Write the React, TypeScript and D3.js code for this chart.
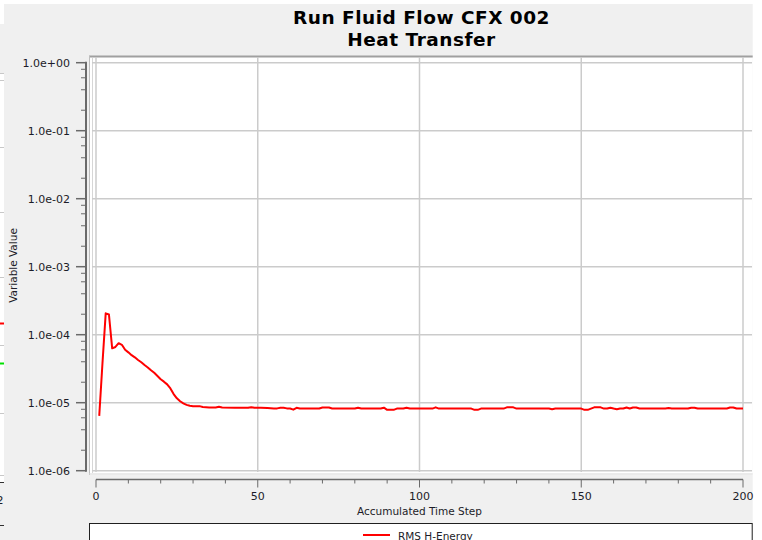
import React from "react";
import * as d3 from "d3";

const titleLines = ["Run Fluid Flow CFX 002", "Heat Transfer"];
const xTicks = [0, 50, 100, 150, 200];
const xMinorTicks = d3.range(0, 201, 10);
const yTickExps = [0, -1, -2, -3, -4, -5, -6];
const yTickLabels = ["1.0e+00", "1.0e-01", "1.0e-02", "1.0e-03", "1.0e-04", "1.0e-05", "1.0e-06"];
const xLabel = "Accumulated Time Step";
const yLabel = "Variable Value";
const seriesName = "RMS H-Energy";

const steps = [
  1, 2, 3, 4, 5, 6, 7, 8, 9, 10, 11, 12, 13, 14, 15, 16, 17, 18, 19, 20,
  21, 22, 23, 24, 25, 26, 27, 28, 29, 30, 32, 33, 35, 37, 38, 39, 43, 47, 48, 49,
  51, 53, 55, 56, 57, 58, 59, 60, 61, 62, 63, 69, 70, 72, 73, 80, 81, 82, 88, 89,
  90, 92, 93, 95, 96, 97, 104, 105, 106, 116, 117, 118, 119, 126, 127, 129, 130, 140, 141, 142,
  150, 151, 152, 153, 154, 156, 157, 158, 159, 160, 161, 162, 163, 164, 165, 166, 167, 168, 176, 177,
  178, 183, 184, 185, 186, 195, 196, 197, 198, 200,
];
const energy = [
  6.4e-6, 3.8e-5, 2.06e-4, 1.98e-4, 6.3e-5, 6.6e-5, 7.5e-5, 7.1e-5, 6.0e-5, 5.5e-5,
  5.0e-5, 4.65e-5, 4.25e-5, 3.93e-5, 3.58e-5, 3.3e-5, 3.0e-5, 2.75e-5, 2.47e-5, 2.21e-5,
  2.04e-5, 1.86e-5, 1.62e-5, 1.34e-5, 1.16e-5, 1.05e-5, 9.8e-6, 9.3e-6, 9.0e-6, 8.9e-6,
  8.9e-6, 8.65e-6, 8.5e-6, 8.5e-6, 8.7e-6, 8.5e-6, 8.4e-6, 8.4e-6, 8.6e-6, 8.4e-6,
  8.45e-6, 8.35e-6, 8.25e-6, 8.25e-6, 8.45e-6, 8.45e-6, 8.25e-6, 8.2e-6, 7.9e-6, 8.4e-6,
  8.2e-6, 8.2e-6, 8.5e-6, 8.5e-6, 8.2e-6, 8.2e-6, 8.45e-6, 8.2e-6, 8.2e-6, 8.45e-6,
  7.85e-6, 7.85e-6, 8.2e-6, 8.2e-6, 8.45e-6, 8.2e-6, 8.2e-6, 8.55e-6, 8.2e-6, 8.2e-6,
  7.85e-6, 7.85e-6, 8.2e-6, 8.2e-6, 8.55e-6, 8.55e-6, 8.2e-6, 8.2e-6, 8.0e-6, 8.2e-6,
  8.2e-6, 7.85e-6, 7.85e-6, 8.2e-6, 8.55e-6, 8.55e-6, 8.2e-6, 8.2e-6, 8.45e-6, 8.2e-6,
  8.0e-6, 8.2e-6, 8.2e-6, 8.5e-6, 8.2e-6, 8.5e-6, 8.5e-6, 8.2e-6, 8.2e-6, 8.35e-6,
  8.2e-6, 8.2e-6, 8.45e-6, 8.45e-6, 8.2e-6, 8.2e-6, 8.5e-6, 8.5e-6, 8.2e-6, 8.2e-6,
];

const W = 762;
const H = 540;
const FONT = "'DejaVu Sans', Verdana, sans-serif";
const TXT = "#1c1c28";

export default function App() {
  const x = d3.scaleLinear().domain([0, 200]).range([96, 743]);
  const y = d3.scaleLog().domain([1e-6, 1]).range([470.7, 62.7]);

  const minorY: number[] = [];
  for (let e = -6; e < 0; e++) {
    for (const m of [2, 4, 6, 8]) minorY.push(m * Math.pow(10, e));
  }

  const pts = steps.map((s, i) => [s, energy[i]] as [number, number]);
  const line = d3
    .line<[number, number]>()
    .x((d) => x(d[0]))
    .y((d) => y(d[1]));

  const axisColor = "#6a6a6a";
  const gridColor = "#cbcbcb";
  const axisX = 86;
  const axisY = 479.5;

  // stray lines of the window behind (left strip)
  const stripLines = [73, 80, 147, 212, 277, 345, 413, 475];

  return (
    <svg
      width={W}
      height={H}
      style={{ position: "absolute", left: 0, top: 0, display: "block" }}
      xmlns="http://www.w3.org/2000/svg"
    >
      <rect x={0} y={0} width={W} height={H} fill="#ffffff" />
      {/* gray panel */}
      <rect x={4} y={4} width={748.7} height={20} fill="#f0f0f0" />
      <rect x={0} y={24} width={752.7} height={H - 24} fill="#f0f0f0" />
      {/* left white strip of the window behind */}
      <rect x={0} y={73} width={4} height={409} fill="#ffffff" />
      {stripLines.map((ly) => (
        <line key={ly} x1={0} x2={4} y1={ly + 0.5} y2={ly + 0.5} stroke="#c8c8c8" strokeWidth={1} />
      ))}
      <line x1={0} x2={4} y1={323.5} y2={323.5} stroke="#ff0000" strokeWidth={2} />
      <line x1={0} x2={4} y1={363.5} y2={363.5} stroke="#00e000" strokeWidth={2} />
      <line x1={0} x2={4} y1={482.5} y2={482.5} stroke="#303030" strokeWidth={1} />
      <line x1={0} x2={4} y1={525.5} y2={525.5} stroke="#303030" strokeWidth={1} />
      <text x={-3.5} y={504} fontFamily={FONT} fontSize={11} fill={TXT}>2</text>

      {/* title */}
      {titleLines.map((t, i) => (
        <text
          key={t}
          x={421.5}
          y={24 + i * 22}
          textAnchor="middle"
          fontFamily={FONT}
          fontWeight="bold"
          fontSize={18.5}
          letterSpacing={0.5}
          fill="#000000"
        >
          {t}
        </text>
      ))}

      {/* plot area */}
      <rect x={89} y={56} width={663.7} height={419} fill="#ffffff" />
      <line x1={89} x2={752.7} y1={56.5} y2={56.5} stroke="#a0a0a0" strokeWidth={2} />
      <line x1={89.5} x2={89.5} y1={56} y2={475} stroke="#bdbdbd" strokeWidth={1} />
      <line x1={92.5} x2={92.5} y1={58} y2={473} stroke="#d6d6d6" strokeWidth={1} />
      <line x1={89} x2={752.7} y1={474} y2={474} stroke="#d6d6d6" strokeWidth={1} />

      {/* grid */}
      {yTickExps.map((e) => (
        <line
          key={"gy" + e}
          x1={92}
          x2={752}
          y1={y(Math.pow(10, e))}
          y2={y(Math.pow(10, e))}
          stroke={gridColor}
          strokeWidth={1.5}
        />
      ))}
      {xTicks.map((t) => (
        <line
          key={"gx" + t}
          x1={x(t)}
          x2={x(t)}
          y1={57}
          y2={472}
          stroke={gridColor}
          strokeWidth={1.5}
        />
      ))}

      {/* y axis */}
      <line x1={axisX} x2={axisX} y1={y(1) - 1} y2={y(1e-6) + 1} stroke={axisColor} strokeWidth={2} />
      {minorY.map((v) => (
        <line key={"my" + v} x1={axisX - 5} x2={axisX} y1={y(v)} y2={y(v)} stroke={axisColor} strokeWidth={1} />
      ))}
      {yTickExps.map((e, i) => (
        <g key={"ty" + e}>
          <line x1={axisX - 10} x2={axisX} y1={y(Math.pow(10, e))} y2={y(Math.pow(10, e))} stroke={axisColor} strokeWidth={1.5} />
          <text
            x={70}
            y={y(Math.pow(10, e)) + 4}
            textAnchor="end"
            fontFamily={FONT}
            fontSize={11}
            fill={TXT}
          >
            {yTickLabels[i]}
          </text>
        </g>
      ))}
      <text
        transform={`translate(16.5,265.5) rotate(-90)`}
        textAnchor="middle"
        fontFamily={FONT}
        fontSize={10.5}
        fill={TXT}
      >
        {yLabel}
      </text>

      {/* x axis */}
      <line x1={x(0)} x2={x(200)} y1={axisY} y2={axisY} stroke={axisColor} strokeWidth={1.5} />
      {xMinorTicks.map((t) => (
        <line
          key={"mx" + t}
          x1={x(t)}
          x2={x(t)}
          y1={axisY}
          y2={axisY + (t % 50 === 0 ? 8 : 4)}
          stroke={axisColor}
          strokeWidth={1}
        />
      ))}
      {xTicks.map((t) => (
        <text
          key={"tx" + t}
          x={x(t)}
          y={500}
          textAnchor="middle"
          fontFamily={FONT}
          fontSize={11}
          fill={TXT}
        >
          {t}
        </text>
      ))}
      <text x={419.5} y={515} textAnchor="middle" fontFamily={FONT} fontSize={10.5} fill={TXT}>
        {xLabel}
      </text>

      {/* series */}
      <path d={line(pts) || ""} fill="none" stroke="#ff0000" strokeWidth={2} strokeLinejoin="round" />

      {/* legend */}
      <rect x={89.5} y={523.5} width={662.7} height={30} fill="#ffffff" stroke="#202020" strokeWidth={1} />
      <line x1={363} x2={390} y1={535} y2={535} stroke="#ff0000" strokeWidth={2} />
      <text x={398} y={540} fontFamily={FONT} fontSize={10.5} fill={TXT}>
        {seriesName}
      </text>
    </svg>
  );
}
